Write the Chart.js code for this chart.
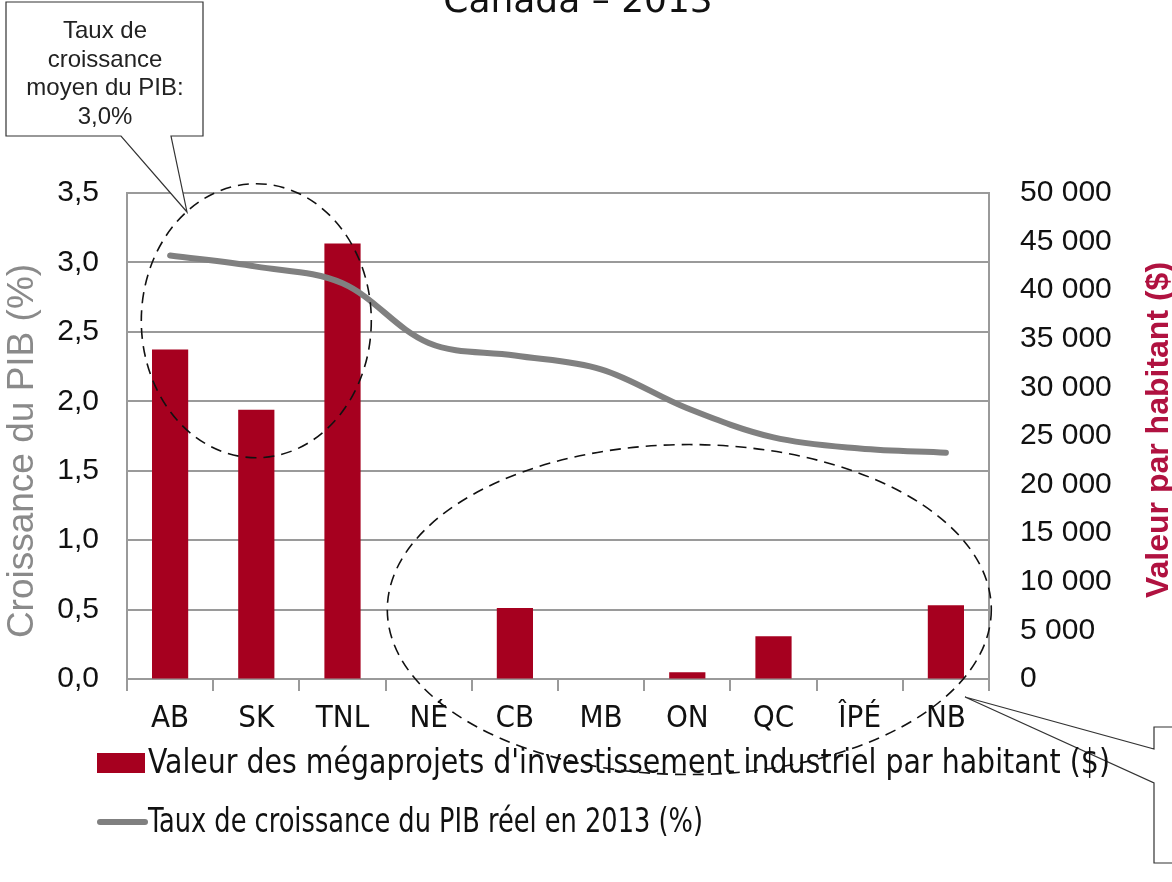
<!DOCTYPE html>
<html>
<head>
<meta charset="utf-8">
<script src="https://cdn.jsdelivr.net/npm/chart.js@4.4.1/dist/chart.umd.min.js"></script>
<style>
    html, body { margin: 0; padding: 0; background: #fff; }
    #wrap { width: 1172px; height: 882px; }
</style>
</head>
<body>
<div id="wrap"><canvas id="chart" width="1172" height="882"></canvas></div>
<script>
// Data
const provinces = ['AB', 'SK', 'TNL', 'NÉ', 'CB', 'MB', 'ON', 'QC', 'ÎPÉ', 'NB'];
const megaprojets = [33900, 27700, 44800, 0, 7300, 0, 700, 4400, 0, 7600];
const croissancePIB = [3.05, 2.97, 2.85, 2.42, 2.33, 2.23, 1.95, 1.74, 1.66, 1.63];
const leftTickLabels = ['0,0', '0,5', '1,0', '1,5', '2,0', '2,5', '3,0', '3,5'];
const rightTickLabels = ['0', '5 000', '10 000', '15 000', '20 000', '25 000', '30 000', '35 000', '40 000', '45 000', '50 000'];

const barLabel = "Valeur des mégaprojets d'investissement industriel par habitant ($)";
const lineLabel = 'Taux de croissance du PIB réel en 2013 (%)';
const chartTitle = 'Canada – 2013';
const calloutText = ['Taux de', 'croissance', 'moyen du PIB:', '3,0%'];

const barColor = '#a6001f';
const lineColor = '#808080';
const gridColor = '#9a9a9a';
const narrowFont = "'Liberation Sans Narrow', 'DejaVu Sans Condensed', sans-serif";
const sansFont = "'Liberation Sans', Arial, sans-serif";

// Draws title, callouts, dashed ellipses, axis titles and legend
const decorations = {
    id: 'decorations',
    afterDraw(chart) {
        const ctx = chart.ctx;
        const x = chart.scales.x;
        const y = chart.scales.y;
        ctx.save();

        // title, cut at the top edge
        ctx.fillStyle = '#111';
        ctx.font = "36px 'DejaVu Sans', sans-serif";
        ctx.textAlign = 'center';
        ctx.textBaseline = 'alphabetic';
        ctx.fillText(chartTitle, 578, 12);

        // top-left callout
        ctx.strokeStyle = '#333';
        ctx.lineWidth = 1.2;
        ctx.beginPath();
        ctx.moveTo(121, 136);
        ctx.lineTo(6, 136);
        ctx.lineTo(6, 2);
        ctx.lineTo(203, 2);
        ctx.lineTo(203, 136);
        ctx.lineTo(171, 136);
        ctx.lineTo(187, 212);
        ctx.closePath();
        ctx.fillStyle = '#fff';
        ctx.fill();
        ctx.stroke();
        ctx.fillStyle = '#222';
        ctx.font = '24px ' + sansFont;
        calloutText.forEach((t, i) => ctx.fillText(t, 105, 38 + i * 28.5));

        // bottom-right callout
        ctx.beginPath();
        ctx.moveTo(1154, 749);
        ctx.lineTo(1154, 727);
        ctx.lineTo(1180, 727);
        ctx.lineTo(1180, 863);
        ctx.lineTo(1154, 863);
        ctx.lineTo(1154, 783);
        ctx.lineTo(965, 697);
        ctx.closePath();
        ctx.fillStyle = '#fff';
        ctx.fill();
        ctx.stroke();

        // dashed ellipses
        ctx.setLineDash([11, 7]);
        ctx.lineWidth = 1.6;
        ctx.strokeStyle = '#111';
        ctx.beginPath();
        ctx.ellipse(x.getPixelForValue(1), y.getPixelForValue(2.58), 115, 137, 0, 0, Math.PI * 2);
        ctx.stroke();
        ctx.beginPath();
        ctx.ellipse(x.getPixelForValue(6) + 2, y.getPixelForValue(0.5), 302, 165, 0, 0, Math.PI * 2);
        ctx.stroke();
        ctx.setLineDash([]);

        // axis titles
        ctx.textAlign = 'center';
        ctx.textBaseline = 'middle';
        ctx.save();
        ctx.translate(23, 451);
        ctx.rotate(-Math.PI / 2);
        ctx.fillStyle = '#8a8a8a';
        ctx.font = '37px ' + sansFont;
        ctx.fillText('Croissance du PIB (%)', 0, 0);
        ctx.restore();

        ctx.save();
        ctx.translate(1159, 430);
        ctx.rotate(-Math.PI / 2);
        ctx.fillStyle = '#b01240';
        ctx.font = 'bold 32px ' + sansFont;
        ctx.fillText('Valeur par habitant ($)', 0, 0);
        ctx.restore();

        // legend
        ctx.textAlign = 'left';
        ctx.fillStyle = barColor;
        ctx.fillRect(97, 753, 48, 20);
        ctx.strokeStyle = lineColor;
        ctx.lineWidth = 6;
        ctx.lineCap = 'round';
        ctx.beginPath();
        ctx.moveTo(100, 822);
        ctx.lineTo(145, 822);
        ctx.stroke();
        ctx.fillStyle = '#111';
        ctx.font = '33px ' + narrowFont;
        ctx.fillText(barLabel, 148, 764, 962);
        ctx.fillText(lineLabel, 148, 823, 555);

        ctx.restore();
    }
};

const ctx = document.getElementById('chart').getContext('2d');
new Chart(ctx, {
    type: 'bar',
    data: {
        labels: provinces,
        datasets: [
            {
                type: 'line',
                label: lineLabel,
                data: croissancePIB,
                yAxisID: 'y',
                borderColor: lineColor,
                borderWidth: 6,
                borderCapStyle: 'round',
                tension: 0.35,
                pointRadius: 0,
                order: 0
            },
            {
                type: 'bar',
                label: barLabel,
                data: megaprojets,
                yAxisID: 'y1',
                backgroundColor: barColor,
                categoryPercentage: 1,
                barPercentage: 0.42,
                order: 1
            }
        ]
    },
    options: {
        responsive: false,
        devicePixelRatio: 1,
        animation: false,
        layout: { padding: { top: 193, left: 0, right: 0, bottom: 0 } },
        plugins: {
            legend: { display: false },
            tooltip: { enabled: false }
        },
        scales: {
            x: {
                offset: true,
                grid: { offset: true, drawOnChartArea: false, color: gridColor, lineWidth: 2, tickLength: 12 },
                border: { color: gridColor, width: 2 },
                ticks: { color: '#111', font: { family: narrowFont, size: 31 }, padding: 9 },
                afterFit(scale) { scale.height = 203; }
            },
            y: {
                position: 'left',
                min: 0,
                max: 3.5,
                grid: { color: gridColor, lineWidth: 2, drawTicks: false },
                border: { color: gridColor, width: 2 },
                ticks: {
                    stepSize: 0.5,
                    color: '#111',
                    padding: 28,
                    font: { family: sansFont, size: 30 },
                    callback: (v, i) => leftTickLabels[i]
                },
                afterFit(scale) { scale.width = 127; }
            },
            y1: {
                position: 'right',
                min: 0,
                max: 50000,
                grid: { drawOnChartArea: false, drawTicks: false },
                border: { color: gridColor, width: 2 },
                ticks: {
                    stepSize: 5000,
                    autoSkip: false,
                    color: '#111',
                    padding: 31,
                    font: { family: sansFont, size: 30 },
                    callback: (v, i) => rightTickLabels[i]
                },
                afterFit(scale) { scale.width = 183; }
            }
        }
    },
    plugins: [decorations]
});
</script>
</body>
</html>
